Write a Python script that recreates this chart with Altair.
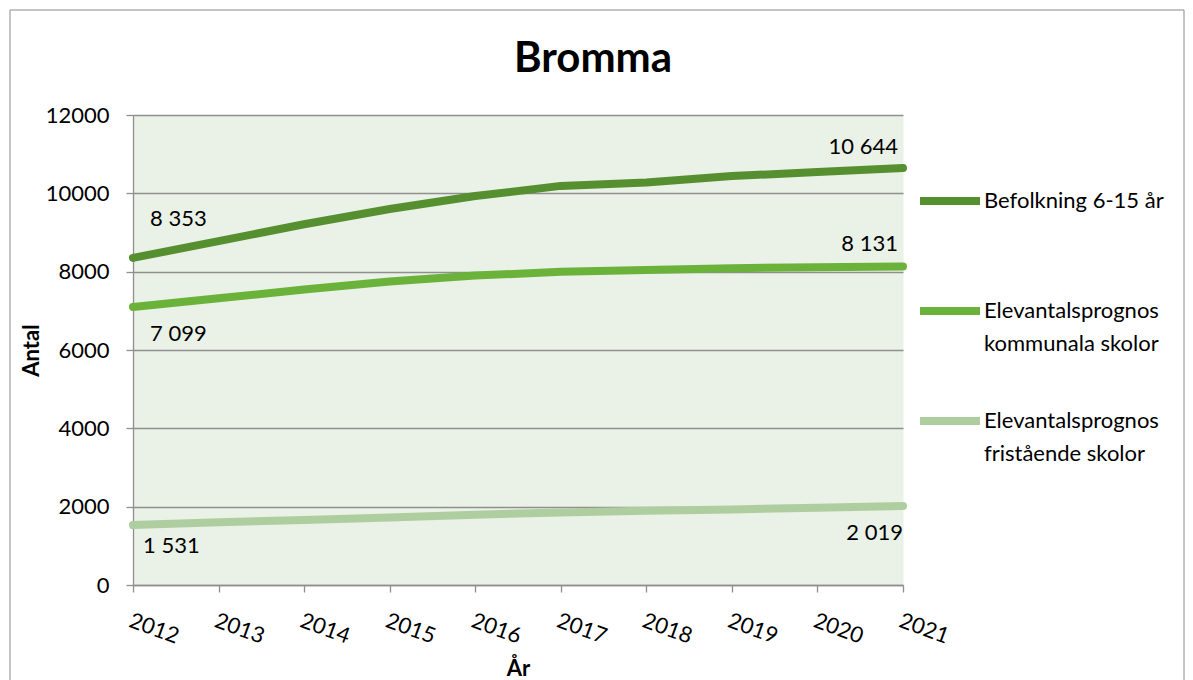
import altair as alt
import pandas as pd

years = [2012, 2013, 2014, 2015, 2016, 2017, 2018, 2019, 2020, 2021]
series_names = [
    "Befolkning 6-15 år",
    "Elevantalsprognos kommunala skolor",
    "Elevantalsprognos fristående skolor",
]
befolkning = [8353, 8780, 9210, 9600, 9930, 10190, 10275, 10440, 10545, 10644]
kommunala = [7099, 7320, 7545, 7750, 7900, 7995, 8040, 8090, 8115, 8131]
fristaende = [1531, 1600, 1660, 1725, 1795, 1850, 1895, 1930, 1970, 2019]
y_ticks = [0, 2000, 4000, 6000, 8000, 10000, 12000]
colors = ["#558F2F", "#6BB23A", "#AECEA0"]

rows = []
for name, vals in zip(series_names, [befolkning, kommunala, fristaende]):
    for yr, v in zip(years, vals):
        rows.append({"year": yr, "value": v, "serie": name,
                     "label": f"{v:,}".replace(",", " ")})
df = pd.DataFrame(rows)

FONT = "Lato"
GRAY = "#8f8f8f"

x = alt.X(
    "year:Q",
    scale=alt.Scale(domain=[2012, 2021], nice=False, zero=False),
    axis=alt.Axis(
        values=years, format="d", grid=False, labelAngle=20, labelAlign="left",
        labelBaseline="top", labelPadding=18, tickSize=7, title="År",
        titleY=90, titleBaseline="alphabetic", titleFontWeight="bold",
    ),
)
y = alt.Y(
    "value:Q",
    scale=alt.Scale(domain=[0, 12000], nice=False),
    axis=alt.Axis(
        values=y_ticks, format="d", tickSize=7, labelPadding=17, title="Antal",
        titleX=-95, titleY=235, titleAngle=270, titleBaseline="alphabetic",
        titleAlign="center", titleFontWeight="bold",
    ),
)
color = alt.Color(
    "serie:N",
    sort=series_names,
    scale=alt.Scale(domain=series_names, range=colors),
    legend=alt.Legend(
        orient="none", legendX=783, legendY=52, title=None,
        symbolType="stroke", symbolSize=3600, symbolStrokeWidth=8,
        labelFontSize=22, labelOffset=0, rowPadding=32, labelLimit=400,
        labelBaseline="middle",
        labelExpr="indexof(datum.label, 'Elevantalsprognos') == 0 ? "
                  "['Elevantalsprognos', substring(datum.label, 18)] : "
                  "[datum.label, '']",
    ),
)

lines = alt.Chart(df).mark_line(strokeWidth=8, strokeCap="round", strokeJoin="round").encode(
    x=x, y=y, color=color
)


def label_layer(serie, year, align, dx, dy):
    return (
        alt.Chart(df)
        .transform_filter((alt.datum.serie == serie) & (alt.datum.year == year))
        .mark_text(align=align, baseline="alphabetic", dx=dx, dy=dy,
                   fontSize=22, color="black", font=FONT)
        .encode(x=x, y=y, text="label:N")
    )


labels = [
    label_layer(series_names[0], 2012, "left", 17, -32),
    label_layer(series_names[1], 2012, "left", 17, 34),
    label_layer(series_names[2], 2012, "left", 10, 28),
    label_layer(series_names[0], 2021, "right", -5, -14),
    label_layer(series_names[1], 2021, "right", -5, -16),
    label_layer(series_names[2], 2021, "right", 0, 34),
]

frame = alt.Chart(alt.Data(values=[{"a": 1}])).mark_rect(
    fill="transparent", stroke="#8a8a8a", strokeWidth=1
).encode(
    x=alt.value(-123), x2=alt.value(1051), y=alt.value(-105), y2=alt.value(620)
)

chart = (
    alt.layer(frame, lines, *labels)
    .properties(
        width=770,
        height=470,
        padding={"left": 125, "top": 107, "right": 282, "bottom": 95},
        autosize=alt.AutoSizeParams(type="none"),
        title=alt.Title("Bromma", fontSize=42, fontWeight="bold", font=FONT,
                        anchor="middle", dx=75, offset=-71, color="black"),
        background="white",
    )
    .configure(font=FONT, style={"guide-label": {"lineHeight": 33}})
    .configure_view(fill="#EAF1E7", stroke="transparent")
    .configure_axis(
        labelFont=FONT, labelFontSize=22, labelColor="black",
        titleFont=FONT, titleFontSize=22, titleColor="black",
        domainColor=GRAY, domainWidth=1.3, tickColor=GRAY, tickWidth=1.3,
        gridColor=GRAY, gridWidth=1.3,
    )
    .configure_legend(labelFont=FONT, labelColor="black")
)

chart.save("out.html", embed_options={"renderer": "svg", "actions": False})
